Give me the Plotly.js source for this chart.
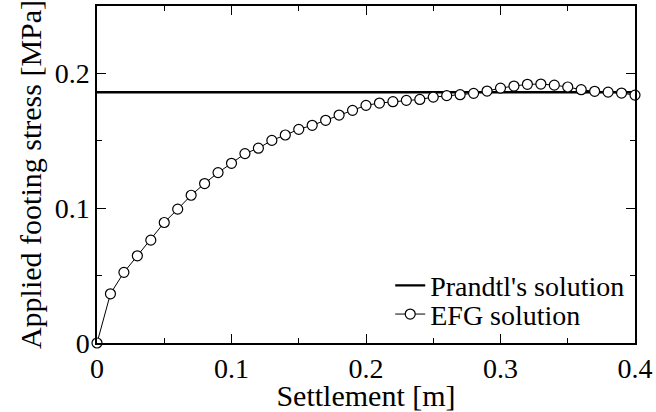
<!DOCTYPE html>
<html>
<head>
<meta charset="utf-8">
<script src="https://cdn.plot.ly/plotly-3.0.1.min.js"></script>
<style>html,body{margin:0;padding:0;background:#fff}#chart{width:656px;height:412px}</style>
</head>
<body>
<div id="chart"></div>
<script>
// Data
var settlement = [0.00,0.01,0.02,0.03,0.04,0.05,0.06,0.07,0.08,0.09,
                  0.10,0.11,0.12,0.13,0.14,0.15,0.16,0.17,0.18,0.19,
                  0.20,0.21,0.22,0.23,0.24,0.25,0.26,0.27,0.28,0.29,
                  0.30,0.31,0.32,0.33,0.34,0.35,0.36,0.37,0.38,0.39,0.40];
var efgStress = [0.0000,0.0365,0.0524,0.0647,0.0763,0.0894,0.0993,0.1096,0.1183,0.1264,
                 0.1333,0.1405,0.1445,0.1503,0.1543,0.1585,0.1615,0.1652,0.1691,0.1726,
                 0.1763,0.1780,0.1790,0.1800,0.1807,0.1824,0.1835,0.1842,0.1852,0.1869,
                 0.1891,0.1906,0.1919,0.1921,0.1913,0.1899,0.1879,0.1867,0.1861,0.1854,0.1839];
var prandtlX = [0.0, 0.4];
var prandtlStress = [0.186, 0.186];
var seriesNames = ["Prandtl's solution", "EFG solution"];
var xTicks = [0, 0.1, 0.2, 0.3, 0.4];
var xTickLabels = ["0", "0.1", "0.2", "0.3", "0.4"];
var yTicks = [0, 0.1, 0.2];
var yTickLabels = ["0", "0.1", "0.2"];

var FONT = "Liberation Serif";

var traces = [
  {
    x: prandtlX, y: prandtlStress, name: seriesNames[0],
    type: 'scatter', mode: 'lines',
    line: {color: '#000', width: 2.4},
    cliponaxis: false, legend: 'legend'
  },
  {
    x: settlement, y: efgStress, name: seriesNames[1],
    type: 'scatter', mode: 'lines+markers',
    line: {color: '#000', width: 1},
    marker: {symbol: 'circle', size: 10, color: '#fff', line: {color: '#000', width: 1.2}},
    cliponaxis: false, legend: 'legend2'
  }
];

function mkFont(s) { return {family: FONT, size: s, color: '#000'}; }

function mkAxis(extra) {
  var a = {
    showline: true, linecolor: '#000', linewidth: 1.5, mirror: 'ticks',
    ticks: 'inside', ticklen: 9, tickwidth: 1.2, tickcolor: '#000',
    showgrid: false, zeroline: false,
    tickfont: mkFont(28),
    minor: {ticks: 'inside', ticklen: 5, tickwidth: 1.2, tickcolor: '#000', showgrid: false, dtick: 0.05, tick0: 0}
  };
  for (var k in extra) a[k] = extra[k];
  return a;
}

function mkLegend(x, y) {
  return {bgcolor: 'rgba(0,0,0,0)', borderwidth: 0, font: mkFont(28),
          xanchor: 'left', yanchor: 'middle', x: x, y: y};
}

var layout = {
  width: 656, height: 412,
  margin: {l: 97, r: 21, t: 6, b: 69},
  paper_bgcolor: '#fff', plot_bgcolor: '#fff',
  font: mkFont(28),
  showlegend: true,
  xaxis: mkAxis({
    range: [0, 0.4], tickvals: xTicks, ticktext: xTickLabels,
    title: {text: 'Settlement [m]', font: mkFont(30), standoff: 0}
  }),
  yaxis: mkAxis({
    range: [0, 0.25], tickvals: yTicks, ticktext: yTickLabels,
    title: {text: 'Applied footing stress [MPa]', font: mkFont(30), standoff: 4}
  }),
  legend: mkLegend(0.545, 0.17),
  legend2: mkLegend(0.545, 0.085)
};

Plotly.newPlot('chart', traces, layout, {displayModeBar: false});
</script>
</body>
</html>
